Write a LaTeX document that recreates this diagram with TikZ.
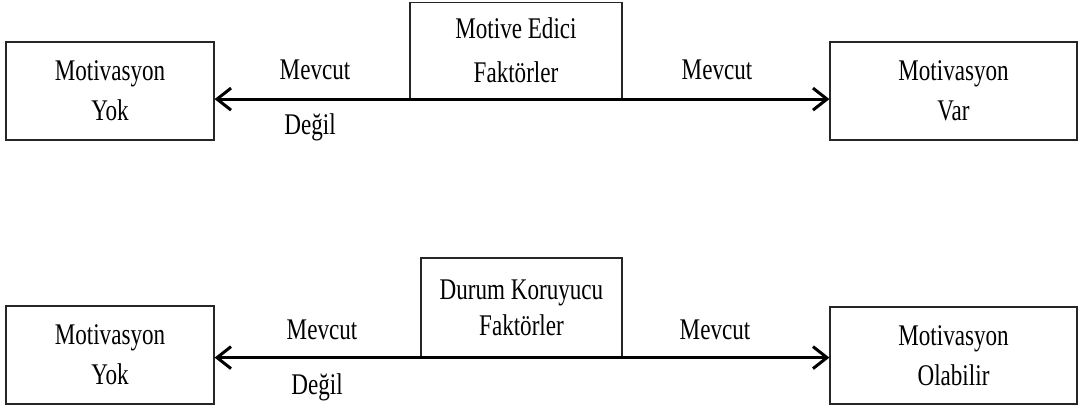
\documentclass[tikz,border=0pt]{standalone}
\usepackage{fontspec}
\setmainfont[FakeStretch=0.77]{Liberation Serif}
\usetikzlibrary{arrows.meta}
\begin{document}
\begin{tikzpicture}[x=1pt,y=-1pt,
  box/.style={draw=black!85,line width=1.2pt,rectangle,inner sep=0pt,align=center,
    font=\fontsize{30}{40}\selectfont},
  lbl/.style={inner sep=0pt,font=\fontsize{30}{40}\selectfont},
  link/.style={line width=3.2pt,{Straight Barb[length=14pt,width=22pt,line width=3pt]}-{Straight Barb[length=14pt,width=22pt,line width=3pt]}}]
\useasboundingbox (0,0) rectangle (1078,410);

% upper model
\node[box,minimum width=208pt,minimum height=98pt] (ly) at (110,91) {Motivasyon\\Yok};
\node[box,minimum width=247pt,minimum height=98pt] (rv) at (953.5,91) {Motivasyon\\Var};
\node[box,minimum width=212pt,minimum height=96pt] (me) at (516,50.5) {Motive Edici\\[4pt]Faktörler};
\draw[link] (me.south -| ly.east) -- (me.south -| rv.west);
\node[lbl] (m1) at (315,70) {Mevcut};
\node[lbl] (d1) at (310,127) {Değil};
\node[lbl] (m2) at (717,70) {Mevcut};

% lower model
\node[box,minimum width=208pt,minimum height=98pt] (ly2) at (110,355) {Motivasyon\\Yok};
\node[box,minimum width=247pt,minimum height=97pt] (ro) at (953.5,355.5) {Motivasyon\\Olabilir};
\node[box,minimum width=201pt,minimum height=99pt] (dk) at (521.5,307.5) {Durum Koruyucu\\[-4pt]Faktörler};
\draw[link] (dk.south -| ly2.east) -- (dk.south -| ro.west);
\node[lbl] (m3) at (322,330) {Mevcut};
\node[lbl] (d2) at (317,387) {Değil};
\node[lbl] (m4) at (715,330) {Mevcut};
\end{tikzpicture}
\end{document}
